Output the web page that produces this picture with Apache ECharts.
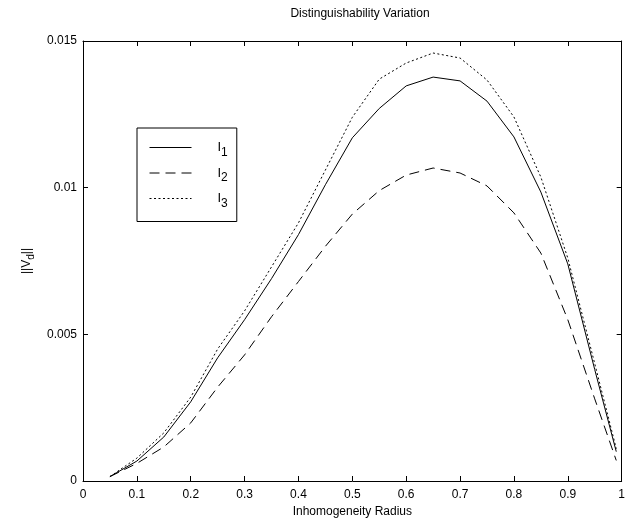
<!DOCTYPE html>
<html><head><meta charset="utf-8">
<script src="https://cdn.jsdelivr.net/npm/echarts@6/dist/echarts.min.js"></script>
<style>html,body{margin:0;padding:0;background:#fff}#c{width:628px;height:529px}</style>
</head><body><div id="c"></div>
<script>
const radius = [0.05,0.1,0.15,0.2,0.25,0.3,0.35,0.4,0.45,0.5,0.55,0.6,0.65,0.7,0.75,0.8,0.85,0.9,0.95,0.99];
const I1 = [0.00015,0.00068,0.0015,0.0027,0.0042,0.0055,0.0069,0.0084,0.0101,0.0117,0.0127,0.01347,0.01377,0.01364,0.01295,0.01173,0.00985,0.0074,0.0038,0.0010];
const I2 = [0.00015,0.0006,0.00116,0.00198,0.0032,0.0043,0.0056,0.0068,0.0080,0.0091,0.0099,0.01043,0.01067,0.0105,0.01006,0.00914,0.00777,0.0055,0.0028,0.0007];
const I3 = [0.00015,0.00078,0.00164,0.00286,0.0045,0.0058,0.0073,0.0088,0.0106,0.0124,0.0137,0.01425,0.01459,0.01442,0.01367,0.01241,0.01036,0.0076,0.0040,0.0011];
const xTicks = ['0','0.1','0.2','0.3','0.4','0.5','0.6','0.7','0.8','0.9','1'];
const yTicks = ['0','0.005','0.01','0.015'];
const seriesNames = ['I1','I2','I3'];

const F = 'Liberation Sans, Arial, sans-serif';
const chart = echarts.init(document.getElementById('c'));
const pair = arr => radius.map((x,i)=>[x,arr[i]]);
const axisBase = {
  axisLine:{show:true,onZero:false,lineStyle:{color:'#000',width:1}},
  axisTick:{show:true,inside:true,length:5,lineStyle:{color:'#000'}},
  splitLine:{show:false}
};
const mk = (name, data, type) => ({
  name, type:'line', data, symbol:'none', smooth:false, color:'#000',
  itemStyle:{color:'#000'},
  lineStyle:{color:'#000', width:1, type}
});
chart.setOption({
  animation:false,
  backgroundColor:'#fff',
  color:['#000','#000','#000'],
  title:{text:'Distinguishability Variation', left:355, top:3, textAlign:'center',
    textStyle:{fontFamily:F,fontSize:12,fontWeight:'normal',color:'#000'}},
  grid:{left:83,right:2,top:41,bottom:48},
  legend:{
    left:137, top:128, orient:'vertical',
    data:seriesNames,
    backgroundColor:'#fff', borderColor:'#000', borderWidth:1,
    padding:[13,9,12,12], itemWidth:42, itemHeight:14, itemGap:8,
    itemStyle:{opacity:0},
    lineStyle:{width:1},
    formatter: n => '{a|I}{b|' + n.slice(1) + '}',
    textStyle:{fontFamily:F,color:'#000',
      rich:{a:{fontFamily:F,fontSize:13,color:'#000',padding:[0,0,0,21]},
            b:{fontFamily:F,fontSize:12,color:'#000',verticalAlign:'bottom',padding:[10,0,0,0]}}}
  },
  xAxis:[
    Object.assign({type:'value',min:0,max:1,interval:0.1,position:'bottom',
      name:'Inhomogeneity Radius',nameLocation:'middle',nameGap:24,
      nameTextStyle:{fontFamily:F,fontSize:12,color:'#000'},
      axisLabel:{fontFamily:F,fontSize:12,color:'#000',margin:8,
        formatter:(v)=>xTicks[Math.round(v*10)]}},axisBase),
    Object.assign({type:'value',min:0,max:1,interval:0.1,position:'top',
      axisLabel:{show:false}},axisBase)
  ],
  yAxis:[
    Object.assign({type:'value',min:0,max:0.015,interval:0.005,position:'left',
      name:'{a|||V}{b|d}{a|||}',nameLocation:'middle',nameGap:44,
      nameTextStyle:{fontFamily:F,fontSize:12,color:'#000',
        rich:{a:{fontFamily:F,fontSize:12,color:'#000'},b:{fontFamily:F,fontSize:10,color:'#000',verticalAlign:'bottom',padding:[8,0,0,0]}}},
      axisLabel:{fontFamily:F,fontSize:12,color:'#000',margin:6,
        formatter:(v)=>yTicks[Math.round(v/0.005)]}},axisBase),
    Object.assign({type:'value',min:0,max:0.015,interval:0.005,position:'right',
      axisLabel:{show:false}},axisBase)
  ],
  series:[
    mk('I1', pair(I1), 'solid'),
    mk('I2', pair(I2), [10,6]),
    mk('I3', pair(I3), [2,2.5])
  ]
});
</script></body></html>
